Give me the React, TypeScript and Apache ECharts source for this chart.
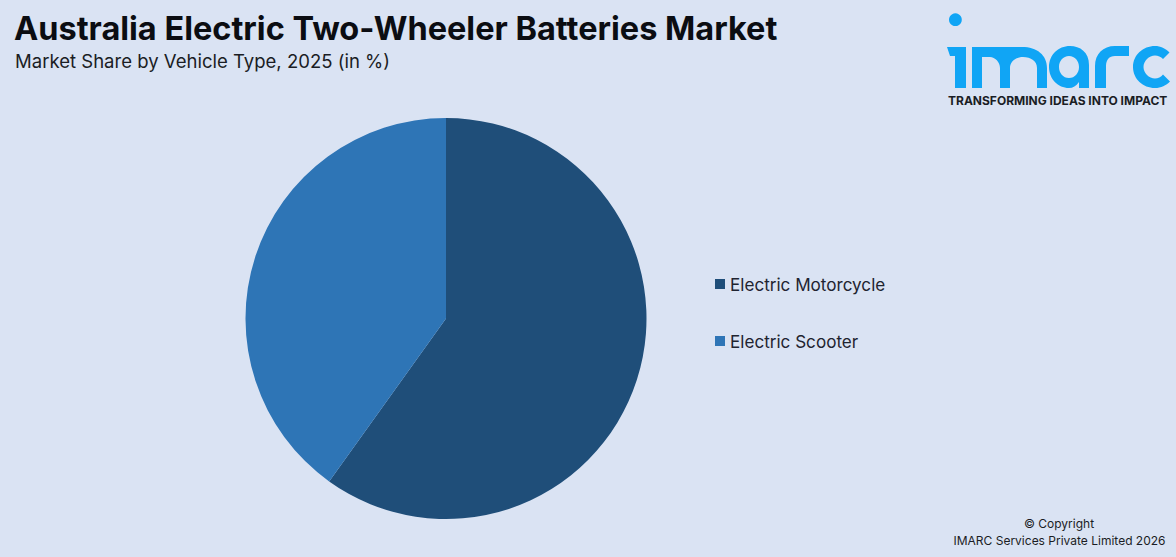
import { useEffect, useRef } from 'react';
import * as echarts from 'echarts';

const categories = ['Electric Motorcycle', 'Electric Scooter'];
const shares = [59.9, 40.1];
const colors = ['#1F4E79', '#2E75B6'];

const titleText = 'Australia Electric Two-Wheeler Batteries Market';
const subtitleText = 'Market Share by Vehicle Type, 2025 (in %)';
const taglineText = 'TRANSFORMING IDEAS INTO IMPACT';
const copyrightLines = ['© Copyright', 'IMARC Services Private Limited 2026'];

// logo letters, in page pixels
echarts.graphic.registerShape(
  'imarcLetters',
  echarts.graphic.extendPath(
    // i
    'M947 47H966V88H955V56H950Z' +
      // m
      'M972 47H1022C1037 47 1047 55 1047 68V88H1037V68C1037 61 1031 57 1023 57C1015 57 1010 62 1010 68V88H1000V68C1000 62 995 57 990 57H982V88H972Z' +
      // a
      'M1070 46C1080 46 1089 52 1089 65V88H1079V82C1076 86 1073 88 1069 88C1058 88 1049 79 1049 67C1049 55 1058 46 1070 46Z' +
      'M1069 56C1063 56 1059 61 1059 67C1059 73 1063 78 1069 78C1075 78 1079 73 1079 67C1079 61 1075 56 1069 56Z' +
      // r
      'M1095 88V66C1095 54 1103 46 1115 46H1129V56H1115C1109 56 1106 60 1106 66V88Z' +
      // c
      'M1169.5 52.5C1165.5 48.5 1160.5 46 1155 46C1143 46 1133 55 1133 67C1133 79 1143 88 1155 88C1161 88 1166 85.5 1170 81.5L1163 74.5C1161 77 1158 78.5 1155 78.5C1149 78.5 1143.5 73 1143.5 67C1143.5 61 1149 55.5 1155 55.5C1158 55.5 1161 57 1163 59Z',
    {}
  )
);

export default function App() {
  const chartRef = useRef<HTMLDivElement>(null);

  useEffect(() => {
    if (!chartRef.current) return;
    const chart = echarts.init(chartRef.current, null, { renderer: 'svg' });

    chart.setOption({
      animation: false,
      backgroundColor: '#DAE3F3',
      textStyle: { fontFamily: 'Inter' },
      legend: {
        orient: 'vertical',
        left: 715,
        top: 275.5,
        padding: 0,
        itemWidth: 10,
        itemHeight: 10,
        itemGap: 40,
        icon: 'rect',
        selectedMode: false,
        data: categories,
        textStyle: { fontFamily: 'Inter', fontSize: 17.1, color: '#1f2430' }
      },
      series: [
        {
          type: 'pie',
          center: [446, 318.5],
          radius: [0, 200.5],
          startAngle: 90,
          clockwise: true,
          label: { show: false },
          labelLine: { show: false },
          silent: true,
          data: categories.map((name, i) => ({
            name,
            value: shares[i],
            itemStyle: { color: colors[i] }
          }))
        }
      ],
      graphic: [
        {
          type: 'text',
          x: 14,
          y: 12,
          style: { text: titleText, font: '700 32.5px Inter', fill: '#0b0d12' }
        },
        {
          type: 'text',
          x: 15,
          y: 51,
          style: { text: subtitleText, font: '400 18.55px Inter', fill: '#1a1d24' }
        },
        { type: 'circle', shape: { cx: 955.4, cy: 19.7, r: 6.4 }, style: { fill: '#10A5F5' } },
        { type: 'imarcLetters', style: { fill: '#10A5F5' } },
        {
          type: 'text',
          x: 948,
          y: 94,
          style: { text: taglineText, font: '700 12px Inter', fill: '#1a1d24' }
        },
        {
          type: 'text',
          x: 1059,
          y: 517,
          style: { text: copyrightLines[0], font: '400 12px Inter', fill: '#1a1d24', align: 'center' }
        },
        {
          type: 'text',
          x: 1059.5,
          y: 534,
          style: { text: copyrightLines[1], font: '400 12px Inter', fill: '#1a1d24', align: 'center' }
        }
      ]
    });

    return () => {
      chart.dispose();
    };
  }, []);

  return <div ref={chartRef} style={{ position: 'fixed', left: 0, top: 0, width: 1176, height: 557 }} />;
}
